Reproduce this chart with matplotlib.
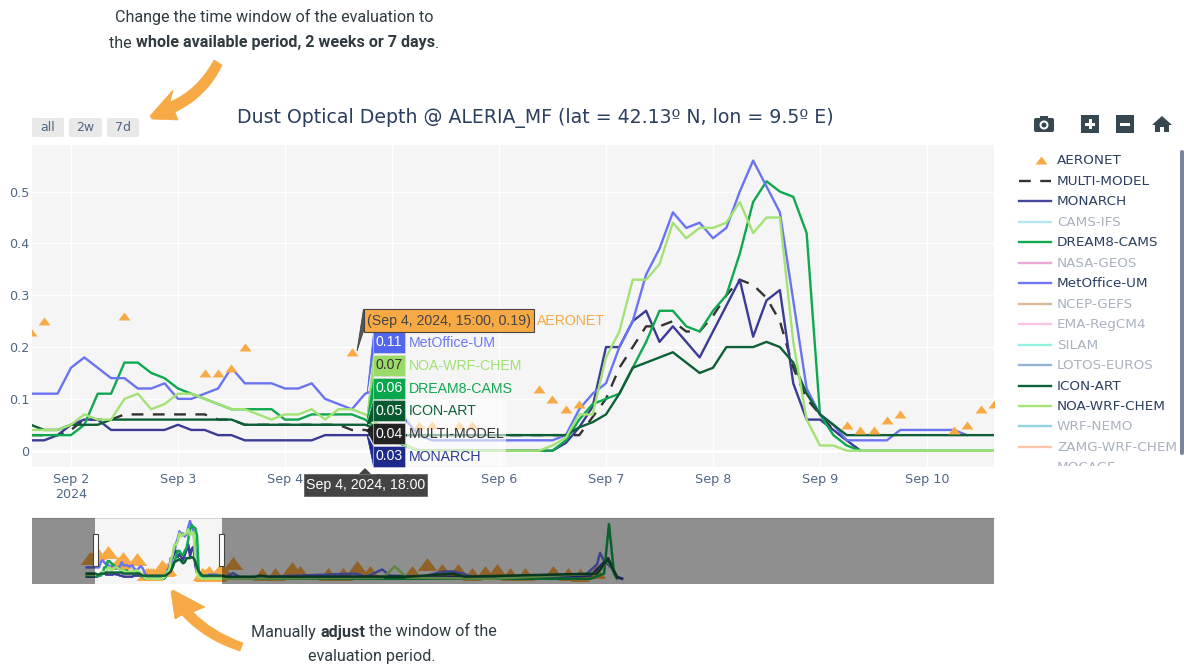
#!/usr/bin/env python3
"""Dust optical depth evaluation view with range slider and hover labels."""

from __future__ import annotations

import numpy as np
import matplotlib

matplotlib.use("Agg")
import matplotlib.pyplot as plt
from matplotlib.patches import Circle, FancyBboxPatch, PathPatch, Polygon, Rectangle
from matplotlib.path import Path
from matplotlib.transforms import Bbox

nan = float("nan")

# three-hourly values, first one is Sep 1 15:00
START_DAY = 1.625
STEP = 0.125

metoffice = [.11, .11, .11,
             .16, .18, .16, .14, .14, .12, .12, .13,
             .10, .10, .11, .12, .16, .13, .13, .13,
             .12, .12, .13, .10, .09, .08, .11, .12,
             .10, .06, .03, .02, .02, .02, .02, .02,
             .02, .02, .02, .02, .02, .03, .08, .11,
             .13, .20, .25, .34, .39, .46, .43, .44,
             .41, .43, .50, .56, .51, .46, .29, .12,
             .07, .05, .02, .02, .02, .02, .04, .04,
             .04, .04, .04, .03, nan, nan]
noa = [.04, .04, .04,
       .05, .07, .06, .06, .10, .11, .08, .09,
       .11, .11, .10, .09, .08, .08, .07, .06,
       .07, .07, .08, .06, .08, .08, .07, .05,
       .03, .01, 0, 0, 0, 0, 0, 0,
       0, 0, 0, 0, .01, .025, .07, .07,
       .18, .23, .33, .33, .36, .44, .41, .43,
       .43, .44, .48, .42, .45, .45, .21, .06,
       .01, .01, 0, 0, 0, 0, 0, 0,
       0, 0, 0, 0, 0, 0]
dream = [.03, .03, .03,
         .03, .05, .11, .11, .17, .17, .15, .14,
         .12, .11, .10, .09, .08, .08, .08, .08,
         .06, .06, .07, .07, .07, .07, .06, .04,
         .02, .01, 0, 0, 0, 0, 0, 0,
         0, 0, 0, 0, 0, .02, .06, .09,
         .10, .11, .16, .21, .27, .27, .24, .23,
         .27, .30, .38, .48, .52, .50, .49, .42,
         .07, .03, .01, 0, 0, 0, 0, 0,
         0, 0, 0, 0, 0, 0]
icon = [.05, .04, .04,
        .05, .05, .05, .06, .06, .06, .06, .06,
        .06, .06, .06, .06, .06, .05, .05, .05,
        .05, .05, .05, .05, .05, .05, .05, .04,
        .03, .03, .03, .03, .03, .03, .03, .03,
        .03, .03, .03, .03, .03, .03, .045, .055,
        .07, .11, .16, .17, .18, .19, .17, .15,
        .16, .20, .20, .20, .21, .20, .17, .11,
        .07, .05, .03, .03, .03, .03, .03, .03,
        .03, .03, .03, .03, .03, .03]
monarch = [.02, .02, .03,
           .05, .06, .06, .04, .04, .04, .04, .04,
           .05, .04, .04, .03, .03, .02, .02, .02,
           .02, .02, .02, .03, .03, .03, .03, .03,
           .02, .01, 0, 0, 0, 0, 0, 0,
           0, 0, 0, 0, 0, .015, .045, .085,
           .20, .20, .25, .27, .21, .24, .21, .18,
           .23, .28, .33, .22, .29, .31, .13, .06,
           .06, .04, .02, 0, nan, nan, nan, nan,
           nan, nan, nan, nan, nan, nan]
multi = [.03, .03, .03,
         .04, .06, .06, .06, .07, .07, .07, .07,
         .07, .07, .07, .06, .06, .05, .05, .05,
         .05, .05, .05, .05, .05, .04, .04, .03,
         .03, .03, .03, .03, .03, .03, .03, .03,
         .03, .03, .03, .03, .03, .03, .03, .065,
         .10, .16, .20, .24, .24, .25, .23, .23,
         .26, .30, .33, .32, .295, .25, .16, .10,
         .07, .04, .02, 0, nan, nan, nan, nan,
         nan, nan, nan, nan, nan, nan]

aeronet_days = [1.625, 1.75, 2.5, 3.25, 3.375, 3.5, 3.625, 4.625, 5.25, 5.375, 5.625, 5.75,
                6.375, 6.5, 6.625, 6.75, 9.25, 9.375, 9.5, 9.625, 9.75, 10.25, 10.375, 10.5, 10.625]
aeronet = [.23, .25, .26, .15, .15, .16, .20, .19, .05, .05, .05, .05,
           .12, .10, .08, .09, .05, .04, .04, .06, .07, .04, .05, .08, .09]

# rest of the period, only seen in the range slider
aeronet_tail_days = [1.25, 11.45, 13.5, 14.45, 15.66, 16.2, 18.2, 19.3, 20.3, 21.2, 24.2, 25.3, 26.4,
                     27.5, 28.5, 29.45, 30.3, 31.2, 32.3, 34.3, 35.4, 36.2, 37.4]
aeronet_tail = [.20, .15, .05, .05, .10, .07, .05, .05, .11, .07, .07, .14, .08,
                .08, .05, .07, .08, .05, .05, .07, .05, .04, .07]
head_days = [1.0, 1.5]
metoffice_head = [.11, .11]
noa_head = [.04, .04]
dream_head = [.03, .03]
icon_head = [.05, .05]
monarch_head = [.02, .02]
metoffice_tail_days = [11.0, 11.45, 12.0, 14.0, 20.16, 21.0, 22.1, 22.66, 25.0, 26.45, 27.16, 27.9, 28.6,
                       30.5, 31.45, 32.0, 36.0, 36.73, 37.45, 37.66, 38.0, 38.23, 38.5, 38.87, 39.23]
metoffice_tail = [.02, .055, .01, .02, .05, .02, .09, .03, .02, .07, .07, .05, .01,
                  .01, .03, .01, .01, .05, .14, .25, .16, .14, .10, .01, 0]
noa_tail_days = [11.0, 22.16, 23.0, 23.87, 30.0, 37.5, 38.23, 38.87]
noa_tail = [0, .01, .12, .01, 0, .05, .18, 0]
dream_tail_days = [11.0, 37.0, 37.95, 38.3, 38.66, 38.87]
dream_tail = [0, 0, .05, .53, .05, 0]
icon_tail_days = [11.0, 13.0, 13.4, 14.0, 24.0, 27.16, 28.0, 37.45, 38.23, 38.87]
icon_tail = [.02, .02, .03, .02, .02, .05, .02, .05, .19, .01]
monarch_tail_days = [11.0, 20.0, 30.0, 37.0, 38.23, 38.87, 39.23]
monarch_tail = [.01, .02, .02, .03, .20, .02, 0]

# legend
legend_names = ["MULTI-MODEL", "MONARCH", "CAMS-IFS", "DREAM8-CAMS", "NASA-GEOS", "MetOffice-UM",
                "NCEP-GEFS", "EMA-RegCM4", "SILAM", "LOTOS-EUROS", "ICON-ART", "NOA-WRF-CHEM",
                "WRF-NEMO", "ZAMG-WRF-CHEM", "MOCAGE"]
legend_colors = ["#333333", "#47479c", "#b5e8f3", "#12a850", "#e8aad8", "#6f78f2",
                 "#d9bb9c", "#fbc4e4", "#95f2e2", "#94b3d2", "#0d5f36", "#a5e476",
                 "#94d2e2", "#ffc4ac", "#c9c9c9"]
legend_active = [True, True, False, True, False, True, False, False, False, False, True, True,
                 False, False, False]

# hover labels at Sep 4, 2024, 18:00
hover_names = ["MetOffice-UM", "NOA-WRF-CHEM", "DREAM8-CAMS", "ICON-ART", "MULTI-MODEL", "MONARCH"]
hover_values = [0.11, 0.07, 0.06, 0.05, 0.04, 0.03]
hover_fill = ["#5266f0", "#9bd968", "#08a74c", "#07592f", "#222222", "#1e2a8c"]
hover_text = ["#6a78f2", "#a0e070", "#10a850", "#0d5f36", "#333333", "#2e3a96"]
hover_value_color = ["white", "#333333", "white", "white", "white", "white"]

day_ticks = [2, 3, 4, 5, 6, 7, 8, 9, 10]
day_labels = ["Sep 2\n2024", "Sep 3", "Sep 4", "Sep 5", "Sep 6", "Sep 7", "Sep 8", "Sep 9", "Sep 10"]
y_ticks = [0, 0.1, 0.2, 0.3, 0.4, 0.5]
y_labels = ["0", "0.1", "0.2", "0.3", "0.4", "0.5"]

W, H = 1184, 667
ORANGE = "#f7a945"
TICK = "#506784"
INK = "#2a3f5f"
NOTE = "#2f3b40"
TRIANGLE = [(-6, -4), (6, -4), (0, 4), (-6, -4)]


def axes_rect(left, top, right, bottom):
    return [left / W, 1 - bottom / H, (right - left) / W, (bottom - top) / H]


def draw_lines(ax, x, width=1.7):
    ax.plot(x, multi, color="#333333", lw=width, ls=(0, (5, 4)), zorder=3)
    ax.plot(x, monarch, color="#3b3b96", lw=width, zorder=4)
    ax.plot(x, dream, color="#10a84f", lw=width, zorder=4)
    ax.plot(x, metoffice, color="#6a74f0", lw=width, zorder=4)
    ax.plot(x, icon, color="#0d5f36", lw=width, zorder=5)
    ax.plot(x, noa, color="#a3e274", lw=width, zorder=5)


def centered_runs(ov, cx, y, runs, size):
    renderer = ov.figure.canvas.get_renderer()
    items = []
    for text, weight in runs:
        items.append(ov.text(0, y, text, family="Roboto", weight=weight, fontsize=size, color=NOTE,
                             ha="left", va="center"))
    widths = [t.get_window_extent(renderer).width for t in items]
    x = cx - sum(widths) / 2
    for t, w in zip(items, widths):
        t.set_x(x)
        x += w


def draw_arrows(ov):
    codes = [Path.MOVETO, Path.CURVE3, Path.CURVE3, Path.LINETO, Path.LINETO, Path.LINETO, Path.LINETO,
             Path.LINETO, Path.CURVE3, Path.CURVE3, Path.CLOSEPOLY]
    top = [(214, 60), (198, 90), (170, 102), (173, 90), (150, 116), (152, 119), (178, 120),
           (175, 112), (207, 97), (222, 65), (214, 60)]
    ov.add_patch(PathPatch(Path(top, codes), fc=ORANGE, ec=ORANGE, lw=0.5))
    bottom = [(240, 651), (205, 640), (182, 615), (175, 619), (171, 592), (173, 590), (205, 607),
              (193, 612), (212, 632), (243, 643), (240, 651)]
    ov.add_patch(PathPatch(Path(bottom, codes), fc=ORANGE, ec=ORANGE, lw=0.5))


def draw_toolbar(ov):
    dark = "#37474f"
    ov.add_patch(FancyBboxPatch((1034, 118), 20, 14, boxstyle="round,pad=0,rounding_size=2", fc=dark, ec="none"))
    ov.add_patch(Rectangle((1040, 116), 8, 3, fc=dark, ec="none"))
    ov.add_patch(Circle((1044, 125), 4.5, fc="white", ec="none"))
    ov.add_patch(Circle((1044, 125), 2.5, fc=dark, ec="none"))
    for x0, cross in ((1081, True), (1116, False)):
        ov.add_patch(Rectangle((x0, 115), 18, 18, fc=dark, ec="none"))
        ov.add_patch(Rectangle((x0 + 4, 122.5), 10, 3, fc="white", ec="none"))
        if cross:
            ov.add_patch(Rectangle((x0 + 7.5, 119), 3, 10, fc="white", ec="none"))
    ov.add_patch(Polygon([(1152, 125), (1162, 116), (1172, 125), (1169, 125), (1169, 132), (1164, 132),
                          (1164, 127), (1160, 127), (1160, 132), (1155, 132), (1155, 125)], fc=dark, ec="none"))


def draw_buttons(ov):
    for (x0, x1), label in zip([(32, 64), (69, 102), (107, 139)], ["all", "2w", "7d"]):
        ov.add_patch(FancyBboxPatch((x0, 118), x1 - x0, 19, boxstyle="round,pad=0,rounding_size=2",
                                    fc="#e9e9e9", ec="none"))
        ov.text((x0 + x1) / 2, 127.5, label, fontsize=9, color=TICK, ha="center", va="center")


def draw_legend(ov, fig):
    ov.plot([1041], [160], ls="none", marker=TRIANGLE, ms=8.6, color=ORANGE, mew=0)
    ov.text(1057, 160.5, "AERONET", fontsize=9.7, color=INK, va="center")
    clip = Bbox([[1000, H - 466], [W, H - 100]])
    for i, (name, color, active) in enumerate(zip(legend_names, legend_colors, legend_active)):
        y = 181 + i * 20.45
        style = (0, (5, 4)) if name == "MULTI-MODEL" else "-"
        if y < 460:
            ov.plot([1019, 1051], [y, y], color=color, lw=1.7, ls=style)
        t = ov.text(1057, y + 0.5, name, fontsize=9.7, color=INK if active else "#a9b2bf", va="center")
        t.set_clip_on(True)
        t.set_clip_box(clip)
    ov.add_patch(FancyBboxPatch((1180, 150), 4, 305, boxstyle="round,pad=0,rounding_size=2",
                                fc="#7a849b", ec="none"))


def draw_hover(ov):
    hover = {"family": "Liberation Sans", "fontsize": 10.2}
    ov.add_patch(Rectangle((407, 400), 99, 66, fc="white", alpha=0.6, ec="none"))
    for i, (name, value) in enumerate(zip(hover_names, hover_values)):
        top = 332 + i * 22.8
        tip = 450.7 - 518 * value
        ov.add_patch(Polygon([(373.5, top + 1), (373.5, top + 20), (367, tip)], fc=hover_fill[i], ec=hover_fill[i],
                             lw=0.5))
        ov.add_patch(Rectangle((373, top), 32, 21, fc=hover_fill[i], ec="#dddddd", lw=0.4))
        ov.text(389, top + 10.5, f"{value:.2f}", color=hover_value_color[i], ha="center", va="center", **hover)
        ov.text(409, top + 11, name, color=hover_text[i], ha="left", va="center", **hover)

    ov.add_patch(Polygon([(363.5, 309), (363.5, 331), (357, 351)], fc="#555555", ec="#444444", lw=0.6))
    ov.add_patch(Rectangle((363.5, 308.5), 170, 23.5, fc=ORANGE, ec="#444444", lw=0.8))
    ov.text(367, 321, "(Sep 4, 2024, 15:00, 0.19)", color="#444444", ha="left", va="center", **hover)
    ov.text(537, 321, "AERONET", color=ORANGE, ha="left", va="center", **hover)

    ov.add_patch(Polygon([(359, 474), (365, 468), (371, 474)], fc="#444444", ec="none"))
    ov.add_patch(Rectangle((304, 474), 123, 22, fc="#444444", ec="#555555", lw=0.5))
    ov.text(365.5, 485, "Sep 4, 2024, 18:00", color="white", ha="center", va="center", **hover)


def main() -> int:
    fig = plt.figure(figsize=(W / 100, H / 100), dpi=100, facecolor="white")
    days = START_DAY + STEP * np.arange(len(metoffice))

    # main panel
    ax = fig.add_axes(axes_rect(32, 145, 994, 467), facecolor="#f5f5f5")
    draw_lines(ax, days)
    ax.plot(aeronet_days, aeronet, ls="none", marker=TRIANGLE, ms=8.6, color=ORANGE, mew=0, zorder=6)
    ax.set_xlim(1.636, 10.626)
    ax.set_ylim(-0.0315, 0.59)
    ax.set_xticks(day_ticks, day_labels)
    ax.set_yticks(y_ticks, y_labels)
    ax.tick_params(length=0, labelcolor=TICK, labelsize=9.2)
    ax.tick_params(axis="x", pad=4)
    ax.tick_params(axis="y", pad=2)
    ax.grid(True, color="white", lw=1)
    ax.set_axisbelow(True)
    ax.axhline(0, color="white", lw=2, zorder=1)
    for spine in ax.spines.values():
        spine.set_visible(False)

    # range slider
    sl = fig.add_axes(axes_rect(32, 518, 994, 584), facecolor="#f5f5f5")
    sl.plot(aeronet_tail_days + aeronet_days, aeronet_tail + aeronet, ls="none", marker=TRIANGLE, ms=14,
            color=ORANGE, mew=0, zorder=2)
    sl.plot(head_days + list(days) + metoffice_tail_days, metoffice_head + metoffice + metoffice_tail,
            color="#6a74f0", lw=1.8, zorder=3)
    sl.plot(head_days + list(days) + monarch_tail_days, monarch_head + monarch + monarch_tail,
            color="#3b3b96", lw=1.8, zorder=3)
    sl.plot(head_days + list(days) + dream_tail_days, dream_head + dream + dream_tail,
            color="#10a84f", lw=1.8, zorder=3)
    sl.plot(head_days + list(days) + noa_tail_days, noa_head + noa + noa_tail,
            color="#a3e274", lw=1.8, zorder=4)
    sl.plot(head_days + list(days) + icon_tail_days, icon_head + icon + icon_tail,
            color="#0d5f36", lw=1.8, zorder=4)
    sl.set_xlim(-2.91, 65.8)
    sl.set_ylim(-0.051, 0.589)
    sl.set_xticks([])
    sl.set_yticks([])
    sl.axvspan(-2.91, 1.625, color="black", alpha=0.416, lw=0, zorder=8)
    sl.axvspan(10.625, 65.8, color="black", alpha=0.416, lw=0, zorder=8)
    for spine in sl.spines.values():
        spine.set_visible(False)
    sl.spines["top"].set_visible(True)
    sl.spines["top"].set_color("#d5d5d5")

    # everything drawn in picture pixels
    ov = fig.add_axes([0, 0, 1, 1], facecolor="none")
    ov.set_xlim(0, W)
    ov.set_ylim(H, 0)
    ov.axis("off")

    ov.text(535, 118, "Dust Optical Depth @ ALERIA_MF (lat = 42.13º N, lon = 9.5º E)", fontsize=13.6, color=INK,
            ha="center", va="center")
    for x0 in (93, 219):
        ov.add_patch(Rectangle((x0, 534), 4.5, 32, fc="white", ec="#444444", lw=0.8))

    fig.canvas.draw()
    centered_runs(ov, 274, 17, [("Change the time window of the evaluation to", "normal")], 11.6)
    centered_runs(ov, 274, 43, [("the ", "normal"), ("whole available period, 2 weeks or 7 days", "bold"), (".", "normal")], 11.6)
    centered_runs(ov, 374, 632, [("Manually ", "normal"), ("adjust", "bold"), (" the window of the", "normal")], 11.6)
    centered_runs(ov, 372, 657, [("evaluation period.", "normal")], 11.6)

    draw_arrows(ov)
    draw_toolbar(ov)
    draw_buttons(ov)
    draw_legend(ov, fig)
    draw_hover(ov)
    ov.set_xlim(0, W)
    ov.set_ylim(H, 0)

    fig.savefig("out.png", dpi=100)
    plt.close(fig)
    return 0


if __name__ == "__main__":
    raise SystemExit(main())
